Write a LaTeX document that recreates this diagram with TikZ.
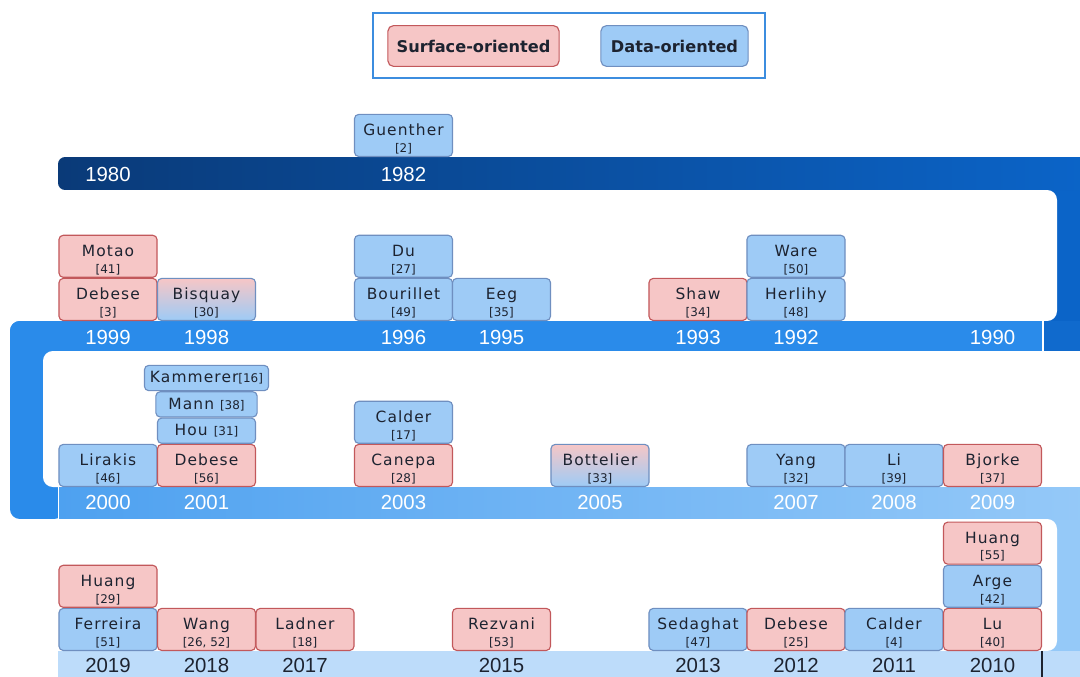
\documentclass[tikz,border=0pt]{standalone}
\usepackage{fontspec}
\setmainfont{DejaVu Sans}
\newfontfamily\namefont[LetterSpace=7]{DejaVu Sans}
\newfontfamily\yearfont{Liberation Sans}
\usetikzlibrary{positioning}

\definecolor{surfFill}{HTML}{F6C6C6}
\definecolor{surfLine}{HTML}{C2585B}
\definecolor{dataFill}{HTML}{9ECBF6}
\definecolor{dataLine}{HTML}{6F8FC0}
\definecolor{inkText}{HTML}{1D2330}
\definecolor{navyL}{HTML}{0A3A78}
\definecolor{navyR}{HTML}{0B64C8}
\definecolor{bandTwo}{HTML}{2A8BEA}
\definecolor{bandThreeL}{HTML}{4EA1F0}
\definecolor{bandThreeR}{HTML}{95C9F8}
\definecolor{bandFour}{HTML}{BDDCFA}
\definecolor{legendLine}{HTML}{3C8DDF}

\newcommand{\pub}[2]{\rule{0pt}{13pt}#1\\{\normalfont\fontsize{8.5}{12}\selectfont #2}}
\newcommand{\refsmall}[1]{{\normalfont\fontsize{8.5}{9}\selectfont #1}}

\tikzset{
  pub/.style={rounded corners=3pt, line width=0.8pt, minimum width=2.45cm, minimum height=1.05cm,
    inner sep=0pt, align=center, text=inkText, font=\namefont\fontsize{11}{12}\selectfont, anchor=south},
  surf/.style={pub, fill=surfFill, draw=surfLine},
  data/.style={pub, fill=dataFill, draw=dataLine},
  mixed/.style={pub, draw=dataLine, top color=surfFill, bottom color=dataFill},
  slim/.style={minimum height=0.63cm},
  yearlab/.style={font=\yearfont\fontsize{14.5}{15}\selectfont, text=white},
  legendbox/.style={rounded corners=4pt, line width=0.8pt, minimum height=1.02cm, inner sep=0pt,
    text=inkText, font=\bfseries\fontsize{11.5}{12}\selectfont},
}

\begin{document}
\begin{tikzpicture}[x=0.025cm, y=-0.025cm]
\useasboundingbox (0,0) rectangle (1080,677);
\clip (0,0) rectangle (1080,677);

% legend
\draw[legendLine, line width=1pt] (373,13) rectangle (765,78);
\node[legendbox, fill=surfFill, draw=surfLine, minimum width=4.28cm] (legSurf) at (473.5,46) {Surface-oriented};
\node[legendbox, fill=dataFill, draw=dataLine, minimum width=3.68cm] (legData) at (674.5,46) {Data-oriented};

% the snake band
\fill[navyR] (1040,170) rectangle (1090,345);
\shade[left color=navyL, right color=navyR, rounded corners=5pt] (58,157) rectangle (1086,190);
\fill[white, rounded corners=7pt] (-20,190) rectangle (1057,321);
\fill[bandTwo, rounded corners=7pt] (10,321) rectangle (1090,351);
\fill[bandTwo, rounded corners=7pt] (10,321) rectangle (64,519);
\fill[navyR!85!bandTwo] (1043,321) rectangle (1090,351);
\fill[white, rounded corners=7pt] (43,351) rectangle (1100,487);
\fill[bandThreeR] (1040,495) rectangle (1090,677);
\shade[left color=bandThreeL, right color=bandThreeR] (58,487) rectangle (1090,519);
\fill[white, rounded corners=7pt] (-20,519) rectangle (1057,651);
\fill[bandFour] (58,651) rectangle (1090,690);
\draw[white, line width=0.8pt] (1043,321) -- (1043,353);
\draw[white, line width=0.8pt] (58.5,487) -- (58.5,519);
\draw[inkText, line width=0.8pt] (1042,651) -- (1042,677);

% years
\node[yearlab] (y1980) at (108,174) {1980};
\node[yearlab] (y1982) at (403.5,174) {1982};
\node[yearlab] (y1999) at (108,337) {1999};
\node[yearlab] (y1998) at (206.5,337) {1998};
\node[yearlab] (y1996) at (403.5,337) {1996};
\node[yearlab] (y1995) at (501.5,337) {1995};
\node[yearlab] (y1993) at (698,337) {1993};
\node[yearlab] (y1992) at (796,337) {1992};
\node[yearlab] (y1990) at (992.5,337) {1990};
\node[yearlab] (y2000) at (108,502) {2000};
\node[yearlab] (y2001) at (206.5,502) {2001};
\node[yearlab] (y2003) at (403.5,502) {2003};
\node[yearlab] (y2005) at (600,502) {2005};
\node[yearlab] (y2007) at (796,502) {2007};
\node[yearlab] (y2008) at (894,502) {2008};
\node[yearlab] (y2009) at (992.5,502) {2009};
\node[yearlab, text=inkText] (y2019) at (108,665) {2019};
\node[yearlab, text=inkText] (y2018) at (206.5,665) {2018};
\node[yearlab, text=inkText] (y2017) at (305,665) {2017};
\node[yearlab, text=inkText] (y2015) at (501.5,665) {2015};
\node[yearlab, text=inkText] (y2013) at (698,665) {2013};
\node[yearlab, text=inkText] (y2012) at (796,665) {2012};
\node[yearlab, text=inkText] (y2011) at (894,665) {2011};
\node[yearlab, text=inkText] (y2010) at (992.5,665) {2010};

% 1980s
\node[data] (guenther) at (403.5,157) {\pub{Guenther}{[2]}};

% 1990s
\node[surf] (debese3) at (108,321) {\pub{Debese}{[3]}};
\node[surf, above=0pt of debese3] (motao) {\pub{Motao}{[41]}};
\node[mixed] (bisquay) at (206.5,321) {\pub{Bisquay}{[30]}};
\node[data] (bourillet) at (403.5,321) {\pub{Bourillet}{[49]}};
\node[data, above=0pt of bourillet] (du) {\pub{Du}{[27]}};
\node[data] (eeg) at (501.5,321) {\pub{Eeg}{[35]}};
\node[surf] (shaw) at (698,321) {\pub{Shaw}{[34]}};
\node[data] (herlihy) at (796,321) {\pub{Herlihy}{[48]}};
\node[data, above=0pt of herlihy] (ware) {\pub{Ware}{[50]}};

% 2000s
\node[data] (lirakis) at (108,487) {\pub{Lirakis}{[46]}};
\node[surf] (debese56) at (206.5,487) {\pub{Debese}{[56]}};
\node[data, slim, above=0pt of debese56] (hou) {Hou \refsmall{[31]}};
\node[data, slim, minimum width=2.53cm, above=0pt of hou] (mann) {Mann \refsmall{[38]}};
\node[data, slim, minimum width=3.1cm, above=0pt of mann] (kammerer) {Kammerer\refsmall{[16]}};
\node[surf] (canepa) at (403.5,487) {\pub{Canepa}{[28]}};
\node[data, above=0pt of canepa] (calder17) {\pub{Calder}{[17]}};
\node[mixed] (bottelier) at (600,487) {\pub{Bottelier}{[33]}};
\node[data] (yang) at (796,487) {\pub{Yang}{[32]}};
\node[data] (li) at (894,487) {\pub{Li}{[39]}};
\node[surf] (bjorke) at (992.5,487) {\pub{Bjorke}{[37]}};

% 2010s
\node[data] (ferreira) at (108,651) {\pub{Ferreira}{[51]}};
\node[surf, above=0pt of ferreira] (huang29) {\pub{Huang}{[29]}};
\node[surf] (wang) at (206.5,651) {\pub{Wang}{[26, 52]}};
\node[surf] (ladner) at (305,651) {\pub{Ladner}{[18]}};
\node[surf] (rezvani) at (501.5,651) {\pub{Rezvani}{[53]}};
\node[data] (sedaghat) at (698,651) {\pub{Sedaghat}{[47]}};
\node[surf] (debese25) at (796,651) {\pub{Debese}{[25]}};
\node[data] (calder4) at (894,651) {\pub{Calder}{[4]}};
\node[surf] (lu) at (992.5,651) {\pub{Lu}{[40]}};
\node[data, above=0pt of lu] (arge) {\pub{Arge}{[42]}};
\node[surf, above=0pt of arge] (huang55) {\pub{Huang}{[55]}};
\end{tikzpicture}
\end{document}
